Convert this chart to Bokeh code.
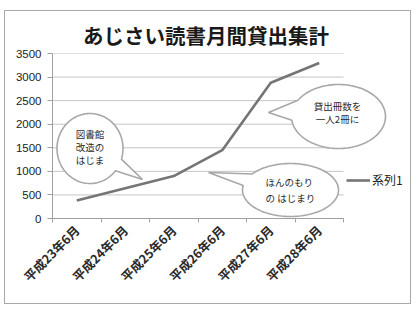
import math
from bokeh.plotting import figure
from bokeh.models import (Range1d, LinearAxis, FixedTicker, Legend, LegendItem,
                          ColumnDataSource)
from bokeh.core.properties import value
from bokeh.embed import file_html
from bokeh.resources import INLINE

# ---- data ----
categories = ["平成23年6月", "平成24年6月", "平成25年6月",
              "平成26年6月", "平成27年6月", "平成28年6月"]
loans = [380, 640, 900, 1450, 2880, 3300]
y_ticks = [0, 500, 1000, 1500, 2000, 2500, 3000, 3500]
series_name = "系列1"
title_text = "あじさい読書月間貸出集計"

bubble_texts = [
    ["図書館", "改造の", "はじま"],
    ["貸出冊数を", "一人2冊に"],
    ["ほんのもり", "の  はじまり"],
]

# ---- layout (page pixels) ----
OX, OY = 5, 11            # canvas origin on the page (inside the 1px border)
CW, CH = 407, 294         # canvas size
PL, PR, PT, PB = 52, 343, 53, 218   # plot area (axes extent) on the page
FR_PAGE = 406             # right edge of the drawing frame on the page
YMAX = 3500
N = len(categories)
XMAX = N * (FR_PAGE - PL) / (PR - PL)

def dx(px):
    return (px - PL) / (PR - PL) * N

def dy(py):
    return (PB - py) / (PB - PT) * YMAX

bubbles = [
    dict(c=(89.5, 148), r=(33, 35), tip=(142, 179), a=(0.31, 0.69),
         tx=89.5, ty=[133, 146, 159], align="center"),
    dict(c=(338, 116), r=(47, 32), tip=(268, 112), a=(-3.26, -2.61),
         tx=337, ty=[105, 118], align="center"),
    dict(c=(290, 189.5), r=(48, 26.5), tip=(208, 172), a=(-2.97, -2.49),
         tx=265, ty=[181, 197], align="left"),
]

p = figure(width=CW, height=CH, output_backend="svg", toolbar_location=None,
           x_range=Range1d(0, XMAX), y_range=Range1d(0, YMAX),
           x_axis_type=None, y_axis_type=None,
           min_border_left=PL - OX, min_border_right=OX + CW - FR_PAGE,
           min_border_top=PT - OY, min_border_bottom=OY + CH - PB)
p.styles = {"border": "1px solid #a8a8a8", "margin-left": "4px", "margin-top": "10px"}
p.outline_line_color = None
p.background_fill_color = "white"
p.border_fill_color = "white"
p.grid.visible = False

# title
p.title.text = title_text
p.title.align = "left"
p.title.offset = (PR - PL) / 2 - 115
p.title.text_font = "Noto Sans CJK JP"
p.title.text_font_size = "20.5px"
p.title.text_font_style = "bold"
p.title.text_color = "#1a1a1a"
p.title.standoff = 7

# x axis (limited to the categories)
xaxis = LinearAxis(ticker=FixedTicker(ticks=[i + 0.5 for i in range(N)],
                                      minor_ticks=list(range(N + 1))))
xaxis.bounds = (0, N)
xaxis.major_label_overrides = {i + 0.5: c for i, c in enumerate(categories)}
xaxis.major_label_orientation = math.pi / 4
xaxis.major_tick_out = 0
xaxis.major_tick_in = 0
xaxis.minor_tick_out = 4
xaxis.minor_tick_in = 0
xaxis.minor_tick_line_color = "#a0a0a0"
xaxis.axis_line_color = "#a0a0a0"
xaxis.major_label_text_font = "Noto Sans CJK JP"
xaxis.major_label_text_font_size = "12.5px"
xaxis.major_label_text_font_style = "bold"
xaxis.major_label_text_color = "#2a2a2a"
xaxis.major_label_standoff = 5
p.add_layout(xaxis, "below")

yaxis = LinearAxis(ticker=FixedTicker(ticks=y_ticks))
yaxis.major_tick_out = 5
yaxis.major_tick_in = 0
yaxis.minor_tick_out = 0
yaxis.major_tick_line_color = "#a0a0a0"
yaxis.axis_line_color = "#a0a0a0"
yaxis.major_label_text_font = "Liberation Sans"
yaxis.major_label_text_font_size = "11.5px"
yaxis.major_label_text_color = "#222222"
yaxis.major_label_standoff = 6
p.add_layout(yaxis, "left")

# horizontal gridlines across the category span only
p.segment(x0=[0] * len(y_ticks), x1=[N] * len(y_ticks), y0=y_ticks, y1=y_ticks,
          line_color="#c4c4c4", line_width=1)

# series line
xs = [i + 0.5 for i in range(N)]
src = ColumnDataSource(dict(x=xs, y=loans))
ln = p.line("x", "y", source=src, line_color="#757575", line_width=2.6)

# callout bubbles
for b, lines in zip(bubbles, bubble_texts):
    cx, cy = b["c"]
    ra, rb = b["r"]
    a0, a1 = b["a"]
    n = 120
    px, py = [], []
    for k in range(n + 1):
        t = a1 + (a0 + 2 * math.pi - a1) * k / n
        px.append(cx + ra * math.cos(t))
        py.append(cy + rb * math.sin(t))
    px.append(b["tip"][0])
    py.append(b["tip"][1])
    p.patch([dx(v) for v in px], [dy(v) for v in py], fill_color="white",
            line_color="#a8a8a8", line_width=1.6)
    p.text(x=[dx(b["tx"])] * len(lines), y=[dy(v) for v in b["ty"]], text=lines,
           text_font=value("Noto Sans CJK JP"), text_font_size="9.5px",
           text_color="#2a2a2a", text_align=b["align"], text_baseline="middle")

# legend just right of the plot area
legend = Legend(items=[LegendItem(label=series_name, renderers=[ln])],
                location=(PR - PL + 3, PB - 180 - 8), orientation="vertical",
                glyph_width=24, glyph_height=16, label_height=16,
                label_standoff=2, padding=0, margin=0, spacing=0,
                border_line_alpha=0, background_fill_alpha=0,
                label_text_font="Noto Sans CJK JP", label_text_font_size="12px",
                label_text_color="#222222")
p.add_layout(legend)

open("out.html", "w").write(file_html(p, INLINE))
